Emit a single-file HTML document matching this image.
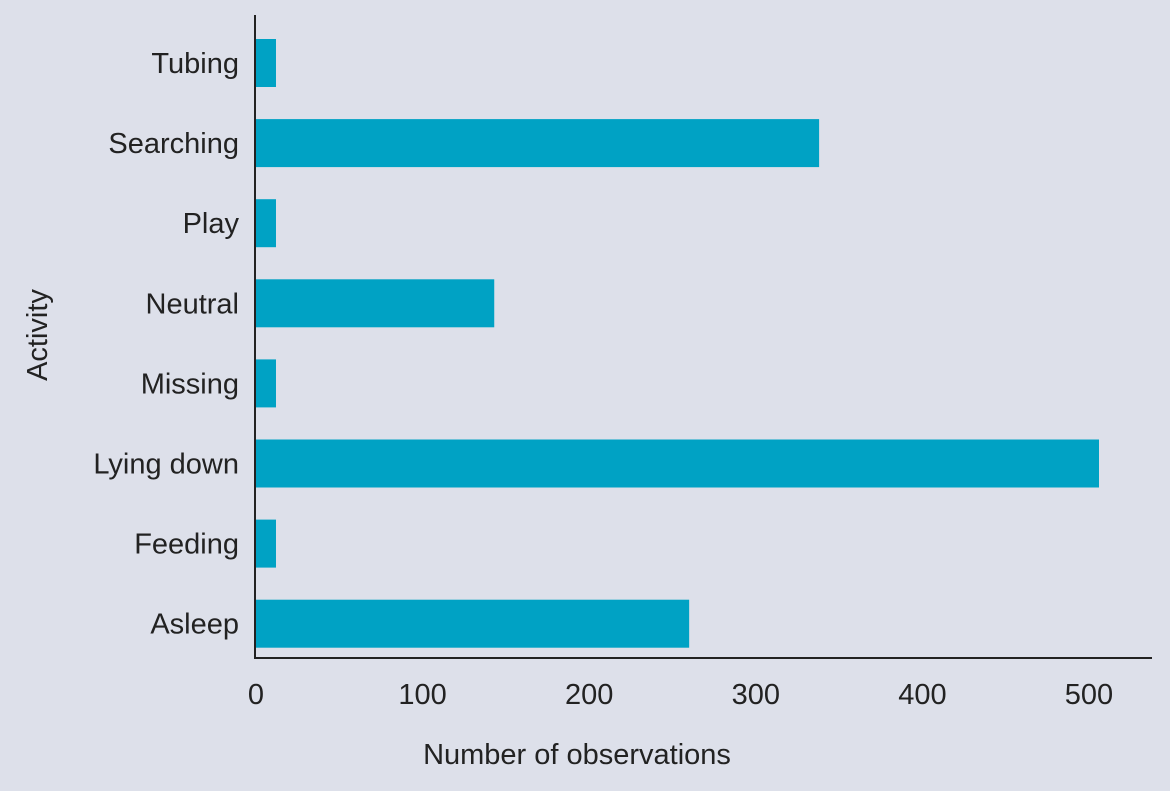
<!DOCTYPE html>
<html><head><meta charset="utf-8"><style>
html,body{margin:0;padding:0;background:#dde0ea;}
svg{display:block;font-family:"Liberation Sans",sans-serif;}
</style></head><body>
<svg id="chart" width="1170" height="791">
<rect width="1170" height="791" fill="#dde0ea"/>
<g id="bars"></g>
<g id="ylabels"></g>
<g id="xticks"></g>
<line x1="255" y1="15" x2="255" y2="658" stroke="#222" stroke-width="2"/>
<line x1="254" y1="658" x2="1152" y2="658" stroke="#222" stroke-width="2"/>
<text x="577" y="764" font-size="29" fill="#222" text-anchor="middle">Number of observations</text>
<text transform="translate(47,335) rotate(-90)" font-size="29" fill="#222" text-anchor="middle">Activity</text>
</svg>
<script>
const categories = ["Tubing","Searching","Play","Neutral","Missing","Lying down","Feeding","Asleep"];
const values = [12, 338, 12, 143, 12, 506, 12, 260];
const tickValues = [0,100,200,300,400,500];
const tickLabels = ["0","100","200","300","400","500"];
const NS="http://www.w3.org/2000/svg";
const x0=256, pxPerUnit=1.666;
function xs(v){return x0+v*pxPerUnit;}
function yc(i){return 63+i*80.1;}
const bars=document.getElementById('bars'), yl=document.getElementById('ylabels'), xt=document.getElementById('xticks');
categories.forEach((c,i)=>{
  const r=document.createElementNS(NS,'rect');
  r.setAttribute('x',x0);r.setAttribute('y',yc(i)-24);
  r.setAttribute('width',xs(values[i])-x0);r.setAttribute('height',48);
  r.setAttribute('fill','#00a2c4');
  
  
  bars.appendChild(r);
  const t=document.createElementNS(NS,'text');
  t.setAttribute('x',239);t.setAttribute('y',yc(i)+10);
  t.setAttribute('text-anchor','end');t.setAttribute('font-size','29');t.setAttribute('fill','#222');
  t.textContent=c;
  
  
  yl.appendChild(t);
});
tickValues.forEach((v,i)=>{
  const t=document.createElementNS(NS,'text');
  t.setAttribute('x',xs(v));t.setAttribute('y',704);
  t.setAttribute('text-anchor','middle');t.setAttribute('font-size','29');t.setAttribute('fill','#222');
  t.textContent=tickLabels[i];
  
  
  xt.appendChild(t);
});
</script>
</body></html>
